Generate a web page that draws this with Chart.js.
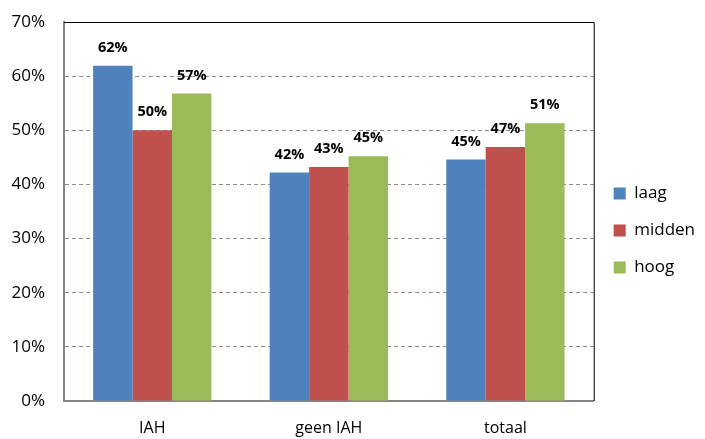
<!DOCTYPE html>
<html>
<head>
<meta charset="utf-8">
<script src="https://cdn.jsdelivr.net/npm/chart.js@4.4.0/dist/chart.umd.min.js"></script>
<style>
  html, body { margin: 0; padding: 0; background: #fff; }
  #wrap { width: 705px; height: 439px; }
</style>
</head>
<body>
<div id="wrap"><canvas id="chart"></canvas></div>
<script>
const categories = ['IAH', 'geen IAH', 'totaal'];
const laag = [61.9, 42.2, 44.6];
const midden = [50.0, 43.2, 46.9];
const hoog = [56.8, 45.2, 51.3];
const yTicks = [0, 10, 20, 30, 40, 50, 60, 70];

// labels boven de balken
const barLabels = {
  id: 'barLabels',
  afterDatasetsDraw(chart) {
    const ctx = chart.ctx;
    ctx.save();
    ctx.font = 'bold 14.5px "Open Sans"';
    ctx.fillStyle = '#000';
    ctx.textAlign = 'center';
    ctx.textBaseline = 'middle';
    chart.data.datasets.forEach((ds, i) => {
      chart.getDatasetMeta(i).data.forEach((bar, j) => {
        ctx.fillText(Math.round(ds.data[j]) + '%', bar.x, bar.y - 18);
      });
    });
    ctx.restore();
  }
};

// zwarte rand boven en rechts
const frame = {
  id: 'frame',
  beforeDatasetsDraw(chart) {
    const a = chart.chartArea, ctx = chart.ctx;
    ctx.save();
    ctx.strokeStyle = '#000';
    ctx.lineWidth = 1;
    ctx.beginPath();
    ctx.moveTo(a.left, a.top + 0.5);
    ctx.lineTo(a.right + 0.5, a.top + 0.5);
    ctx.lineTo(a.right + 0.5, a.bottom);
    ctx.stroke();
    ctx.restore();
  }
};

new Chart(document.getElementById('chart').getContext('2d'), {
  type: 'bar',
  data: {
    labels: categories,
    datasets: [
      { label: 'laag', data: laag, backgroundColor: '#4F81BD' },
      { label: 'midden', data: midden, backgroundColor: '#C0504D' },
      { label: 'hoog', data: hoog, backgroundColor: '#9BBB59' }
    ]
  },
  options: {
    responsive: true,
    maintainAspectRatio: false,
    animation: false,
    datasets: { bar: { categoryPercentage: 0.67, barPercentage: 1.0 } },
    layout: { padding: { top: 22, left: 0, right: 0, bottom: 0 } },
    plugins: {
      legend: {
        position: 'right',
        labels: {
          boxWidth: 12, boxHeight: 12, padding: 20,
          color: '#000',
          font: { family: '"Open Sans"', size: 17 }
        }
      },
      tooltip: { enabled: false }
    },
    scales: {
      x: {
        grid: { display: false },
        border: { color: '#868686', width: 2 },
        afterFit(axis) { axis.height = 38; },
        ticks: { color: '#000', padding: 10, font: { family: '"Open Sans"', size: 16 } }
      },
      y: {
        min: 0, max: 70,
        afterBuildTicks(axis) { axis.ticks = yTicks.map(v => ({ value: v })); },
        afterFit(axis) { axis.width = 64; axis.paddingTop = 0; axis.paddingBottom = 0; },
        grid: {
          drawTicks: false,
          color: ctx => (ctx.tick && (ctx.tick.value === 0 || ctx.tick.value === 70)) ? 'rgba(0,0,0,0)' : '#8c8c8c',
          lineWidth: 1
        },
        border: { color: '#868686', width: 2, dash: [4, 3] },
        ticks: {
          color: '#000', padding: 19,
          font: { family: '"Open Sans"', size: 17 },
          callback: v => v + '%'
        }
      }
    }
  },
  plugins: [barLabels, frame]
});
</script>
</body>
</html>
